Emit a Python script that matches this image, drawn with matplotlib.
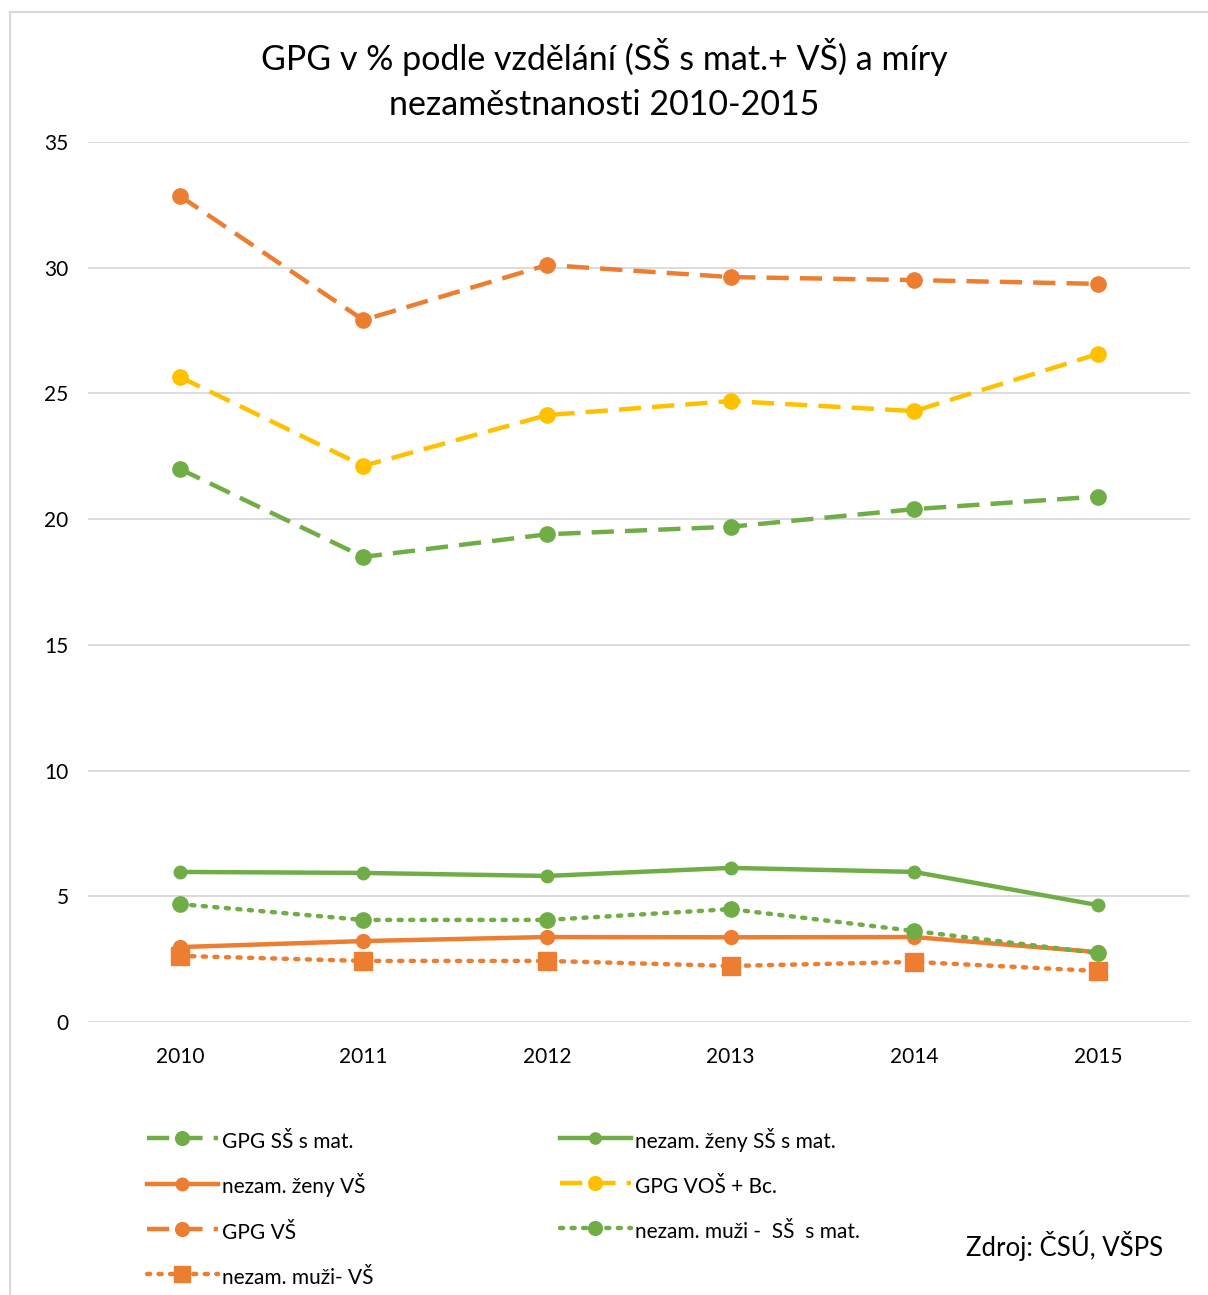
import matplotlib.pyplot as plt
from matplotlib.patches import Rectangle

years = ["2010", "2011", "2012", "2013", "2014", "2015"]
gpg_ss = [22.0, 18.5, 19.4, 19.7, 20.4, 20.9]
zeny_ss = [5.97, 5.93, 5.81, 6.13, 5.97, 4.65]
zeny_vs = [2.98, 3.22, 3.38, 3.37, 3.38, 2.78]
gpg_vos = [25.66, 22.12, 24.14, 24.70, 24.30, 26.57]
gpg_vs = [32.86, 27.92, 30.11, 29.63, 29.51, 29.36]
muzi_ss = [4.69, 4.06, 4.06, 4.49, 3.62, 2.74]
muzi_vs = [2.63, 2.43, 2.43, 2.23, 2.39, 2.03]

orange = "#ED7D31"
green = "#70AD47"
yellow = "#FFC000"

plt.rcParams["font.family"] = ["Lato", "DejaVu Sans"]

fig = plt.figure(figsize=(12.08, 12.95), dpi=100)
ax = fig.add_axes([0.0728, 0.2108, 0.912, 0.6795])

x = range(len(years))
dash = (0, (5, 2.5))
dot = (0, (0.7, 1.9))

l1, = ax.plot(x, gpg_ss, color=green, lw=3.2, ls=dash, marker="o", ms=11, label="GPG SŠ s mat.")
l2, = ax.plot(x, zeny_ss, color=green, lw=3.2, ls="-", marker="o", ms=9, label="nezam. ženy SŠ s mat.")
l3, = ax.plot(x, zeny_vs, color=orange, lw=3.2, ls="-", marker="o", ms=10, label="nezam. ženy VŠ")
l4, = ax.plot(x, gpg_vos, color=yellow, lw=3.2, ls=dash, marker="o", ms=11, label="GPG VOŠ + Bc.")
l5, = ax.plot(x, gpg_vs, color=orange, lw=3.2, ls=dash, marker="o", ms=11, label="GPG VŠ")
l6, = ax.plot(x, muzi_ss, color=green, lw=3.2, ls=dot, dash_capstyle="round", marker="o", ms=11,
              label="nezam. muži -  SŠ  s mat.")
l7, = ax.plot(x, muzi_vs, color=orange, lw=3.2, ls=dot, dash_capstyle="round", marker="s", ms=13,
              label="nezam. muži- VŠ")

ax.set_xlim(-0.5, 5.5)
ax.set_ylim(0, 35)
ax.set_yticks(range(0, 36, 5))
ax.set_xticks(list(x))
ax.set_xticklabels(years)
ax.grid(axis="y", color="#D9D9D9", lw=1.3)
ax.set_axisbelow(True)
for s in ax.spines.values():
    s.set_visible(False)
ax.tick_params(length=0, labelsize=15, colors="#000000")
ax.tick_params(axis="x", pad=18)
ax.tick_params(axis="y", pad=14)

fig.text(0.5, 0.9386, "GPG v % podle vzdělání (SŠ s mat.+ VŠ) a míry\nnezaměstnanosti 2010-2015",
         ha="center", va="center", fontsize=24.5, linespacing=1.5)

handles = [l1, l3, l5, l7, l2, l4, l6]
fig.legend(handles=handles, loc="upper left", bbox_to_anchor=(0.106, 0.1436), ncol=2,
           frameon=False, fontsize=15, handlelength=3.4, handletextpad=0.2,
           columnspacing=8.95, labelspacing=0.95, handleheight=1.5, markerscale=0.9)

fig.text(0.80, 0.030, "Zdroj: ČSÚ, VŠPS", fontsize=18.5)

fig.patches.append(Rectangle((0.008, -0.01), 1.0, 1.001, transform=fig.transFigure,
                             fill=False, edgecolor="#D9D9D9", lw=1.5))

fig.savefig("out.png", dpi=100)
